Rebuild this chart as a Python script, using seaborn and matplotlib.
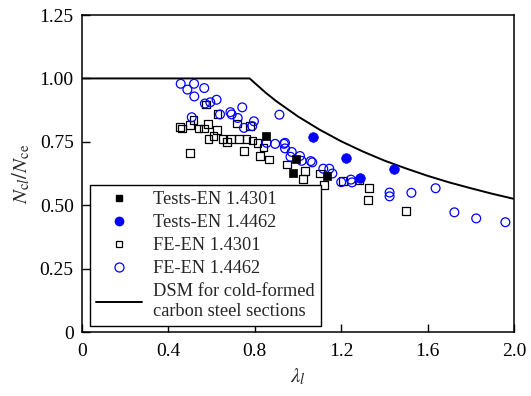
import matplotlib
matplotlib.use("Agg")
import matplotlib.pyplot as plt
from matplotlib.lines import Line2D
import seaborn as sns

# Test results
tests_4301_lam = [0.852, 0.989, 0.978, 1.136]
tests_4301_nc = [0.773, 0.681, 0.629, 0.616]
tests_4462_lam = [1.071, 1.222, 1.444, 1.285]
tests_4462_nc = [0.770, 0.685, 0.642, 0.607]

# FE results, EN 1.4301
fe_4301_lam = [0.455, 0.500, 0.517, 0.539, 0.564, 0.582, 0.573, 0.628, 0.624, 0.608,
               0.585, 0.650, 0.671, 0.690, 0.718, 0.727, 0.762, 0.778, 0.789, 0.501,
               0.750, 0.812, 0.840, 0.824, 0.867, 0.949, 1.032, 1.022, 1.102, 1.120,
               1.207, 1.283, 1.329, 1.323, 1.499, 0.462]
fe_4301_nc = [0.808, 0.816, 0.835, 0.803, 0.803, 0.821, 0.897, 0.860, 0.797, 0.773,
              0.760, 0.762, 0.749, 0.762, 0.822, 0.762, 0.762, 0.812, 0.756, 0.707,
              0.713, 0.746, 0.727, 0.694, 0.681, 0.661, 0.635, 0.603, 0.625, 0.580,
              0.596, 0.598, 0.567, 0.520, 0.478, 0.802]

# FE results, EN 1.4462
fe_4462_lam = [0.457, 0.519, 0.488, 0.566, 0.520, 0.569, 0.594, 0.623, 0.639, 0.687,
               0.693, 0.742, 0.721, 0.508, 0.750, 0.788, 0.796, 0.914, 0.855, 0.894,
               0.940, 0.935, 0.940, 0.971, 0.965, 1.009, 1.017, 1.059, 1.066, 1.117,
               1.145, 1.159, 1.200, 1.245, 1.250, 1.424, 1.424, 1.525, 1.637, 1.724,
               1.825, 1.960]
fe_4462_nc = [0.979, 0.979, 0.956, 0.962, 0.929, 0.901, 0.906, 0.916, 0.858, 0.867,
              0.858, 0.886, 0.844, 0.847, 0.805, 0.812, 0.831, 0.857, 0.746, 0.742,
              0.746, 0.742, 0.724, 0.710, 0.691, 0.694, 0.675, 0.674, 0.669, 0.644,
              0.644, 0.625, 0.591, 0.601, 0.590, 0.550, 0.535, 0.549, 0.567, 0.472,
              0.448, 0.433]

# DSM local buckling curve for cold-formed carbon steel
dsm_lam = [0.0, 0.776, 0.85, 0.9, 1.0, 1.1, 1.2, 1.3, 1.4, 1.5, 1.6, 1.7, 1.8, 1.9, 2.0]
dsm_nc = [1.0, 1.0, 0.944, 0.910, 0.850, 0.798, 0.752, 0.712, 0.676, 0.645, 0.616,
          0.590, 0.567, 0.545, 0.525]

x_ticks = [0, 0.4, 0.8, 1.2, 1.6, 2.0]
x_ticklabels = ["0", "0.4", "0.8", "1.2", "1.6", "2.0"]
y_ticks = [0, 0.25, 0.5, 0.75, 1.0, 1.25]
y_ticklabels = ["0", "0.25", "0.50", "0.75", "1.00", "1.25"]

legend_labels = ["Tests-EN 1.4301", "Tests-EN 1.4462", "FE-EN 1.4301", "FE-EN 1.4462",
                 "DSM for cold-formed\ncarbon steel sections"]

sns.set_style("ticks")
plt.rcParams["font.family"] = ["Liberation Serif", "DejaVu Serif"]
plt.rcParams["mathtext.fontset"] = "stix"

fig = plt.figure(figsize=(5.31, 3.96), dpi=100)
ax = fig.add_axes([0.1544, 0.1616, 0.8136, 0.8004])

blue = "#0000ff"
fs = 14

sns.scatterplot(x=fe_4301_lam, y=fe_4301_nc, ax=ax, marker="s", s=30,
                facecolor="none", edgecolor="black", linewidth=0.9, zorder=3)
sns.scatterplot(x=fe_4462_lam, y=fe_4462_nc, ax=ax, marker="o", s=40,
                facecolor="none", edgecolor=blue, linewidth=0.9, zorder=3)
sns.scatterplot(x=tests_4301_lam, y=tests_4301_nc, ax=ax, marker="s", s=34,
                color="black", edgecolor="black", linewidth=0.5, zorder=4)
sns.scatterplot(x=tests_4462_lam, y=tests_4462_nc, ax=ax, marker="o", s=48,
                color=blue, edgecolor=blue, linewidth=0.5, zorder=4)
sns.lineplot(x=dsm_lam, y=dsm_nc, ax=ax, color="black", linewidth=1.4,
             sort=False, estimator=None, zorder=2)

ax.set_xlim(0, 2.0)
ax.set_ylim(0, 1.25)
ax.set_xticks(x_ticks)
ax.set_xticklabels(x_ticklabels)
ax.set_yticks(y_ticks)
ax.set_yticklabels(y_ticklabels)
ax.tick_params(direction="in", length=6, width=1, labelsize=fs, colors="black",
               top=False, right=False)
ax.tick_params(axis="x", pad=8)
ax.tick_params(axis="y", pad=6)
for sp in ax.spines.values():
    sp.set_visible(True)
    sp.set_linewidth(1.1)
    sp.set_color("black")

ax.set_xlabel(r"$\lambda_l$", fontsize=fs + 1, labelpad=5)
ax.set_ylabel(r"$N_{\mathrm{c}l}/N_{\mathrm{ce}}$", fontsize=fs + 1, labelpad=5)

handles = [
    Line2D([], [], marker="s", linestyle="none", color="black", markersize=5),
    Line2D([], [], marker="o", linestyle="none", color=blue, markersize=6),
    Line2D([], [], marker="s", linestyle="none", markerfacecolor="none",
           markeredgecolor="black", markersize=5, markeredgewidth=0.9),
    Line2D([], [], marker="o", linestyle="none", markerfacecolor="none",
           markeredgecolor=blue, markersize=6.5, markeredgewidth=0.9),
    Line2D([], [], color="black", linewidth=1.4),
]
leg = ax.legend(handles, legend_labels, loc="lower left", bbox_to_anchor=(0.018, 0.018),
                fontsize=13.2, frameon=True, fancybox=False, edgecolor="black",
                framealpha=1, borderpad=0.35, labelspacing=0.33, handlelength=2.5,
                handletextpad=0.6, borderaxespad=0)
leg.get_frame().set_linewidth(1.0)

fig.savefig("out.png", dpi=100)
